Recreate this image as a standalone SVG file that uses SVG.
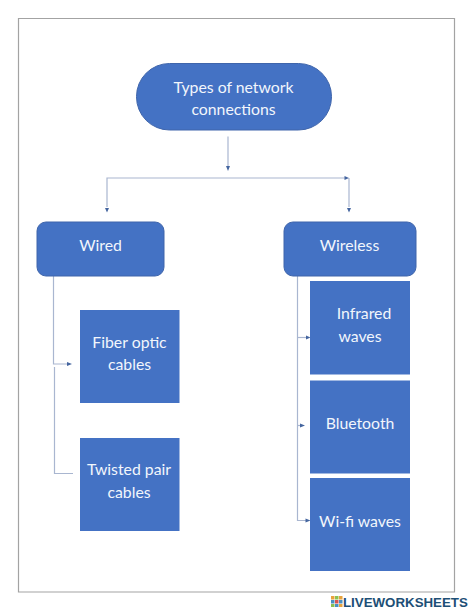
<svg xmlns="http://www.w3.org/2000/svg" width="474" height="611" viewBox="0 0 474 611">
<style>
.n{fill:#4472c4}
.o{stroke:#3f65ab;stroke-width:1}
.t{font-family:"Lato","Carlito","Liberation Sans",sans-serif;font-size:15.8px;fill:#f2f6fc;text-anchor:middle}
.c{fill:none;stroke:#a9b6d0;stroke-width:1.2}
.a{fill:#44659f}
</style>
<path id="frame" d="M18.500 592V18.500H454.500V592Z" fill="none" stroke="#a3a3a3" stroke-width="1.200"/>
<g id="connectors">
<path class="c" d="M228 136.500V166"/>
<path class="c" d="M346 178H107V207"/>
<path class="c" d="M349 178V207"/>
<path class="c" d="M53.500 276V364H68"/>
<path class="c" d="M54.500 367V473.500H73"/>
<path class="c" d="M297.500 276V520.500H306"/>
<path class="c" d="M297.500 337.500H306"/>
<path class="c" d="M297.500 425.500H300"/>
<path class="a" d="M226 166h4l-2 5zM105 208h4l-2 4.500zM347 208h4l-2 4.500zM344.500 176l4.500 2l-4.500 2zM67 362l5 2l-5 2zM306 335.500l4.500 2l-4.500 2zM300 423.500l5 2l-5 2zM305.500 518.500l5 2l-5 2z"/>
</g>
<g id="root"><rect class="n o" x="136.500" y="63.500" width="195" height="66.500" rx="33" ry="33"/><text class="t" x="233.500" y="92.500">Types of network</text><text class="t" x="233.500" y="115">connections</text></g>
<g id="wired"><rect class="n o" x="37" y="222" width="127" height="54" rx="9" ry="9"/><text class="t" x="100.500" y="251">Wired</text></g>
<g id="wireless"><rect class="n o" x="284" y="222" width="132" height="54" rx="9" ry="9"/><text class="t" x="349.500" y="251">Wireless</text></g>
<g id="fiber"><rect class="n" x="80" y="310" width="99.500" height="93"/><text class="t" x="129.500" y="348">Fiber optic</text><text class="t" x="129.500" y="370">cables</text></g>
<g id="twisted"><rect class="n" x="80" y="438" width="99.500" height="93"/><text class="t" x="129" y="475">Twisted pair</text><text class="t" x="129" y="497.500">cables</text></g>
<g id="infrared"><rect class="n" x="310" y="281" width="100" height="93.500"/><text class="t" x="364" y="319">Infrared</text><text class="t" x="360" y="341.500">waves</text></g>
<g id="bluetooth"><rect class="n" x="310" y="380.500" width="100" height="93"/><text class="t" x="360" y="429">Bluetooth</text></g>
<g id="wifi"><rect class="n" x="310" y="478" width="100" height="93"/><text class="t" x="360" y="527">Wi-fi waves</text></g>
<g id="logo">
<rect x="331" y="596" width="3.500" height="3.500" fill="#e8a33d"/><rect x="335" y="596" width="3.500" height="3.500" fill="#8cc152"/><rect x="339" y="596" width="3.500" height="3.500" fill="#e8a33d"/>
<rect x="331" y="600" width="3.500" height="3.500" fill="#4a90c2"/><rect x="335" y="600" width="3.500" height="3.500" fill="#d9534f"/><rect x="339" y="600" width="3.500" height="3.500" fill="#4a90c2"/>
<rect x="331" y="604" width="3.500" height="3" fill="#8cc152"/><rect x="335" y="604" width="3.500" height="3" fill="#4a90c2"/><rect x="339" y="604" width="3.500" height="3" fill="#e8a33d"/>
<text x="343" y="606.500" font-family="Liberation Sans,sans-serif" font-weight="700" font-size="13.300" fill="#1d4f76">LIVEWORKSHEETS</text>
</g>
</svg>
